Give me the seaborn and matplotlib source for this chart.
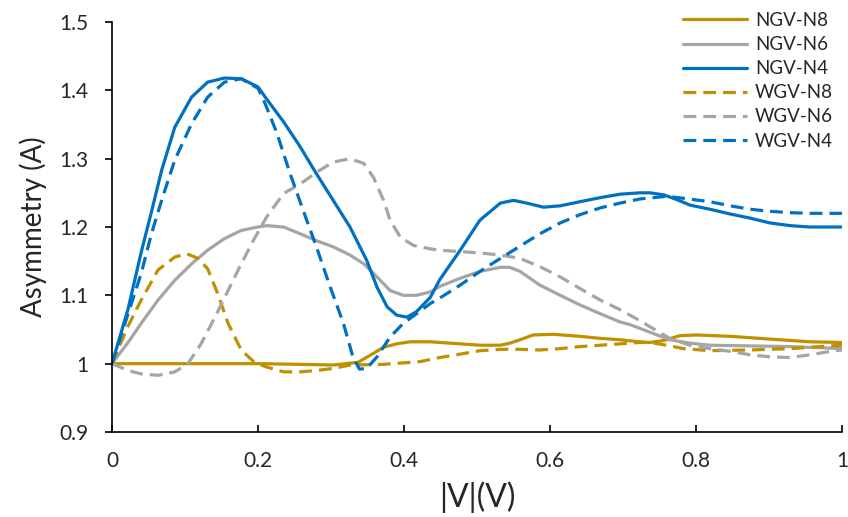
import matplotlib
matplotlib.use("Agg")
import matplotlib.pyplot as plt
import seaborn as sns
import pandas as pd

# data

NGV_N8_X = [0, 0.1, 0.2, 0.258, 0.303, 0.337, 0.358, 0.372, 0.39, 0.408, 0.436, 0.477, 0.504, 0.532,
            0.545, 0.559, 0.577, 0.604, 0.641, 0.669, 0.696, 0.723, 0.737, 0.756, 0.778, 0.801, 0.847,
            0.901, 0.956, 1.0]
NGV_N8_Y = [1.0, 1.0, 1.0, 0.999, 0.998, 1.002, 1.015, 1.024, 1.029, 1.032, 1.032, 1.029, 1.027, 1.027,
            1.03, 1.035, 1.042, 1.043, 1.04, 1.037, 1.035, 1.032, 1.031, 1.034, 1.041, 1.042, 1.04,
            1.036, 1.032, 1.031]

NGV_N6_X = [0, 0.022, 0.04, 0.063, 0.086, 0.109, 0.131, 0.154, 0.177, 0.2, 0.212, 0.235, 0.258, 0.28,
            0.303, 0.326, 0.345, 0.363, 0.381, 0.399, 0.417, 0.436, 0.449, 0.477, 0.504, 0.532, 0.545,
            0.559, 0.586, 0.614, 0.641, 0.669, 0.696, 0.71, 0.737, 0.764, 0.792, 0.819, 0.874, 0.929,
            1.0]
NGV_N6_Y = [1.0, 1.031, 1.059, 1.093, 1.122, 1.146, 1.166, 1.183, 1.195, 1.2, 1.202, 1.2, 1.19, 1.18,
            1.171, 1.159, 1.146, 1.127, 1.107, 1.1, 1.1, 1.105, 1.113, 1.125, 1.135, 1.141, 1.141,
            1.135, 1.115, 1.1, 1.086, 1.073, 1.061, 1.057, 1.046, 1.035, 1.03, 1.027, 1.026, 1.025,
            1.022]

NGV_N4_X = [0, 0.022, 0.04, 0.054, 0.068, 0.086, 0.109, 0.131, 0.154, 0.177, 0.2, 0.212, 0.235, 0.258,
            0.28, 0.303, 0.326, 0.349, 0.363, 0.377, 0.39, 0.404, 0.417, 0.436, 0.449, 0.477, 0.504,
            0.532, 0.55, 0.568, 0.591, 0.614, 0.641, 0.669, 0.696, 0.723, 0.737, 0.756, 0.774, 0.792,
            0.819, 0.847, 0.874, 0.901, 0.929, 0.956, 1.0]
NGV_N4_Y = [1.0, 1.08, 1.163, 1.222, 1.283, 1.346, 1.39, 1.412, 1.418, 1.417, 1.405, 1.387, 1.354, 1.317,
            1.278, 1.239, 1.2, 1.151, 1.112, 1.083, 1.071, 1.068, 1.076, 1.097, 1.123, 1.166, 1.21,
            1.235, 1.239, 1.235, 1.229, 1.231, 1.237, 1.243, 1.248, 1.25, 1.25, 1.247, 1.24, 1.232,
            1.226, 1.219, 1.213, 1.206, 1.202, 1.2, 1.2]

WGV_N8_X = [0, 0.022, 0.04, 0.063, 0.086, 0.102, 0.118, 0.131, 0.145, 0.159, 0.177, 0.195, 0.212, 0.235,
            0.258, 0.28, 0.303, 0.326, 0.372, 0.422, 0.449, 0.477, 0.504, 0.532, 0.559, 0.586, 0.614,
            0.641, 0.669, 0.696, 0.723, 0.737, 0.76, 0.783, 0.819, 0.874, 0.929, 0.984, 1.0]
WGV_N8_Y = [1.0, 1.055, 1.093, 1.137, 1.156, 1.161, 1.154, 1.139, 1.102, 1.059, 1.02, 1.002, 0.995, 0.988,
            0.988, 0.99, 0.993, 0.998, 0.999, 1.003, 1.009, 1.014, 1.019, 1.021, 1.021, 1.02, 1.022,
            1.025, 1.027, 1.029, 1.031, 1.031, 1.027, 1.022, 1.019, 1.02, 1.022, 1.026, 1.027]

WGV_N6_X = [0, 0.022, 0.04, 0.063, 0.086, 0.104, 0.122, 0.141, 0.159, 0.177, 0.195, 0.212, 0.235, 0.258,
            0.28, 0.303, 0.326, 0.345, 0.358, 0.372, 0.381, 0.395, 0.413, 0.436, 0.449, 0.477, 0.504,
            0.532, 0.559, 0.586, 0.614, 0.641, 0.669, 0.696, 0.723, 0.737, 0.764, 0.792, 0.819, 0.847,
            0.874, 0.901, 0.929, 0.956, 0.984, 1.0]
WGV_N6_Y = [1.0, 0.99, 0.985, 0.983, 0.988, 1.0, 1.029, 1.068, 1.107, 1.146, 1.183, 1.215, 1.249, 1.263,
            1.28, 1.295, 1.3, 1.293, 1.273, 1.239, 1.21, 1.185, 1.173, 1.168, 1.166, 1.164, 1.162,
            1.159, 1.154, 1.142, 1.127, 1.11, 1.093, 1.079, 1.063, 1.054, 1.037, 1.027, 1.022, 1.018,
            1.013, 1.01, 1.009, 1.013, 1.018, 1.02]

WGV_N4_X = [0, 0.022, 0.04, 0.054, 0.068, 0.086, 0.109, 0.131, 0.154, 0.177, 0.2, 0.21, 0.226, 0.244,
            0.262, 0.28, 0.299, 0.317, 0.33, 0.339, 0.349, 0.363, 0.381, 0.399, 0.417, 0.436, 0.449,
            0.477, 0.504, 0.532, 0.559, 0.586, 0.614, 0.641, 0.669, 0.696, 0.723, 0.76, 0.783, 0.819,
            0.847, 0.874, 0.901, 0.929, 0.956, 1.0]
WGV_N4_Y = [1.0, 1.073, 1.132, 1.19, 1.239, 1.298, 1.351, 1.39, 1.412, 1.417, 1.403, 1.38, 1.337, 1.278,
            1.224, 1.171, 1.112, 1.059, 1.01, 0.992, 0.993, 1.01, 1.039, 1.059, 1.073, 1.088, 1.096,
            1.115, 1.135, 1.154, 1.172, 1.19, 1.206, 1.218, 1.228, 1.235, 1.241, 1.245, 1.242, 1.237,
            1.231, 1.226, 1.223, 1.221, 1.22, 1.22]

SERIES = ["NGV-N8", "NGV-N6", "NGV-N4", "WGV-N8", "WGV-N6", "WGV-N4"]
COLORS = {"NGV-N8": "#BF9000", "NGV-N6": "#A5A5A5", "NGV-N4": "#0070C0",
          "WGV-N8": "#BF9000", "WGV-N6": "#A5A5A5", "WGV-N4": "#0070C0"}
DASHES = {"NGV-N8": "", "NGV-N6": "", "NGV-N4": "",
          "WGV-N8": (4, 2.2), "WGV-N6": (4, 2.2), "WGV-N4": (4, 2.2)}


def build_frame():
    pairs = [(NGV_N8_X, NGV_N8_Y), (NGV_N6_X, NGV_N6_Y), (NGV_N4_X, NGV_N4_Y),
             (WGV_N8_X, WGV_N8_Y), (WGV_N6_X, WGV_N6_Y), (WGV_N4_X, WGV_N4_Y)]
    frames = []
    for name, (xs, ys) in zip(SERIES, pairs):
        frames.append(pd.DataFrame({"V": xs, "A": ys, "series": name}))
    return pd.concat(frames, ignore_index=True)


def main():
    sns.set_style("white")
    plt.rcParams["font.family"] = ["Lato", "DejaVu Sans"]

    df = build_frame()

    fig = plt.figure(figsize=(8.48, 5.17), dpi=100)
    ax = fig.add_axes([112 / 848, 85 / 517, 730 / 848, 410 / 517])

    sns.lineplot(data=df, x="V", y="A", hue="series", style="series",
                 hue_order=SERIES, style_order=SERIES,
                 palette=COLORS, dashes=DASHES, estimator=None, sort=False,
                 linewidth=2.3, ax=ax)

    ax.set_xlim(0, 1)
    ax.set_ylim(0.9, 1.5)
    ax.set_xticks([0, 0.2, 0.4, 0.6, 0.8, 1])
    ax.set_xticklabels(["0", "0.2", "0.4", "0.6", "0.8", "1"])
    ax.set_yticks([0.9, 1.0, 1.1, 1.2, 1.3, 1.4, 1.5])
    ax.set_yticklabels(["0.9", "1", "1.1", "1.2", "1.3", "1.4", "1.5"])

    for side in ["top", "right"]:
        ax.spines[side].set_visible(False)
    for side in ["left", "bottom"]:
        ax.spines[side].set_color("black")
        ax.spines[side].set_linewidth(1.2)

    ax.tick_params(axis="y", direction="out", length=5, width=1.2, color="black",
                   pad=12, labelsize=15, left=True)
    ax.tick_params(axis="x", direction="in", length=5, width=1.2, color="black",
                   pad=14, labelsize=15, bottom=True)

    ax.set_xlabel("|V|(V)", fontsize=23, labelpad=7)
    ax.set_ylabel("Asymmetry (A)", fontsize=20, labelpad=9)

    ax.legend(frameon=False, loc="upper left", bbox_to_anchor=(683 / 848, 1 - 12 / 517),
              bbox_transform=fig.transFigure, fontsize=13.5, handlelength=3.4,
              handletextpad=0.43, labelspacing=0.38, borderaxespad=0, borderpad=0)

    fig.savefig("out.png", dpi=100)
    plt.close(fig)


if __name__ == "__main__":
    main()
